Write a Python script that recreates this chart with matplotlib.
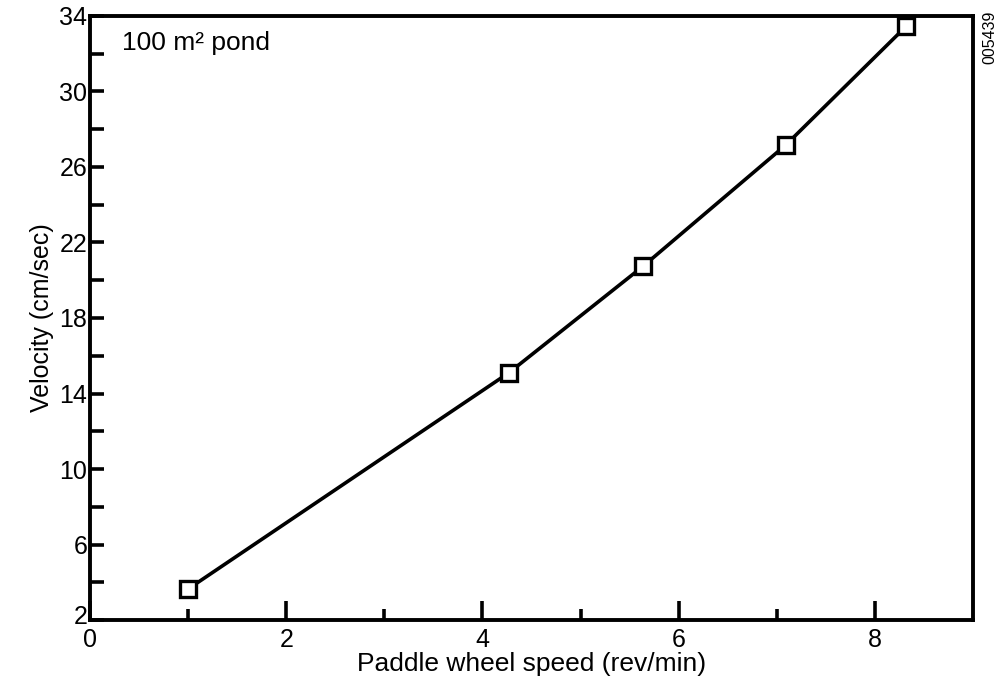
import matplotlib
matplotlib.use("Agg")
import matplotlib.pyplot as plt
from matplotlib.transforms import ScaledTranslation

# data
speed = [1.0, 4.27, 5.64, 7.09, 8.32]        # rev/min
velocity = [3.65, 15.1, 20.75, 27.15, 33.45]  # cm/sec

x_major = [0, 2, 4, 6, 8]
x_minor = [1, 3, 5, 7]
y_major = [2, 6, 10, 14, 18, 22, 26, 30, 34]
y_minor = [4, 8, 12, 16, 20, 24, 28, 32]

plt.rcParams["font.family"] = ["Liberation Sans", "DejaVu Sans"]

fig = plt.figure(figsize=(10, 6.86), dpi=100)
ax = fig.add_axes([0.09, 0.096, 0.883, 0.881])

ax.plot(speed, velocity, color="black", linewidth=2.6,
        marker="s", markersize=12, markerfacecolor="white",
        markeredgecolor="black", markeredgewidth=2.4)

ax.set_xlim(0, 9)
ax.set_ylim(2, 34)
ax.set_xticks(x_major)
ax.set_xticks(x_minor, minor=True)
ax.set_yticks(y_major)
ax.set_yticks(y_minor, minor=True)

ax.tick_params(axis="x", which="major", direction="in", length=14, width=2.6,
               labelsize=18, pad=6)
ax.tick_params(axis="x", which="minor", direction="in", length=8, width=2.6)
ax.tick_params(axis="y", which="both", direction="in", length=10, width=2.6,
               labelsize=18, pad=2)
for s in ax.spines.values():
    s.set_linewidth(2.8)

# nudge the bottom "2" up a few pixels so it clears the "0" below it
lab = ax.get_yticklabels()[0]
lab.set_transform(lab.get_transform() + ScaledTranslation(0, 4 / 72, fig.dpi_scale_trans))

ax.set_xlabel("Paddle wheel speed (rev/min)", fontsize=19, labelpad=0)
ax.set_ylabel("Velocity (cm/sec)", fontsize=18, labelpad=4)

ax.text(0.036, 0.975, "100 m² pond", transform=ax.transAxes,
        fontsize=19, va="top", ha="left")
fig.text(0.99, 0.985, "005439", rotation=90, fontsize=11.5,
         ha="center", va="top")

plt.savefig("out.png", dpi=100)
